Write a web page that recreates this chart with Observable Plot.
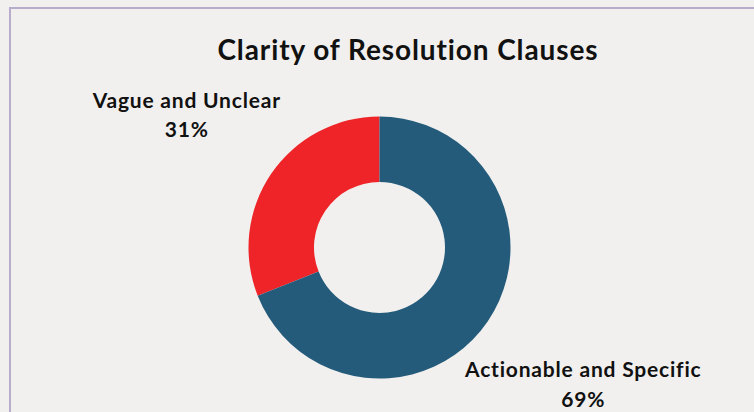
<!DOCTYPE html>
<html>
<head>
<meta charset="utf-8">
<script src="https://cdn.jsdelivr.net/npm/d3@7"></script>
<script src="https://cdn.jsdelivr.net/npm/@observablehq/plot@0.6"></script>
<style>
  html, body { margin: 0; padding: 0; background: #f1f0ee; overflow: hidden; }
  body { width: 754px; height: 412px; position: relative; font-family: Lato, "Open Sans", sans-serif; }
  #frame { position: absolute; left: 9px; top: 7px; width: 800px; height: 500px;
           border-left: 2px solid #b7accb; border-top: 2px solid #b7accb; }
  #title { position: absolute; left: 0; top: 35px; width: 816px; text-align: center;
           font-size: 28px; line-height: 28px; font-weight: 700; color: #111; letter-spacing: 0.9px; }
  #chart { position: absolute; left: 0; top: 0; }
  #chart svg text { letter-spacing: 0.8px; }
</style>
</head>
<body>
<div id="frame"></div>
<div id="title">Clarity of Resolution Clauses</div>
<div id="chart"></div>
<script>
const categories = ["Vague and Unclear", "Actionable and Specific"];
const values = [31, 69];
const valueLabels = ["31%", "69%"];
const colors = ["#ee2428", "#245b7b"];

const data = categories.map((c, i) => ({category: c, value: values[i], label: valueLabels[i]}));

// pie layout: first slice counter-clockwise from top
const total = d3.sum(values);
let acc = 0;
const slices = data.map(d => {
  const a0 = -(acc + d.value) / total * 2 * Math.PI;
  const a1 = -acc / total * 2 * Math.PI;
  acc += d.value;
  return {...d, startAngle: a0, endAngle: a1, mid: (a0 + a1) / 2};
});
// normalize: second slice goes clockwise from top
slices.forEach(s => { if (s.startAngle < -Math.PI) { s.startAngle += 2 * Math.PI; s.endAngle += 2 * Math.PI; s.mid = (s.startAngle + s.endAngle) / 2; } });

const innerR = 0.5;
const labelR = 1.83;
const labels = slices.map(s => ({
  text: s.category + "\n" + s.label,
  x: labelR * Math.sin(s.mid),
  y: labelR * Math.cos(s.mid)
}));

const cx = 379.5, cy = 247.5, R = 131;

const arcMark = (index, scales) => {
  const x0 = scales.x(0), y0 = scales.y(0);
  const r = scales.x(1) - scales.x(0);
  const arc = d3.arc().innerRadius(r * innerR).outerRadius(r);
  const g = d3.create("svg:g").attr("transform", `translate(${x0},${y0})`);
  g.selectAll("path").data(slices).join("path")
    .attr("d", s => arc({startAngle: s.startAngle, endAngle: s.endAngle}))
    .attr("fill", s => scales.color(s.category));
  return g.node();
};

const plot = Plot.plot({
  width: 754,
  height: 412,
  margin: 0,
  style: {background: "transparent", overflow: "visible"},
  x: {domain: [-1, 1], range: [cx - R, cx + R], axis: null},
  y: {domain: [-1, 1], range: [cy + R, cy - R], axis: null},
  color: {domain: categories, range: colors},
  marks: [
    arcMark,
    Plot.text(labels, {
      x: "x", y: "y", text: "text", dx: 5,
      fontSize: 21, fontWeight: 700, fontFamily: "Lato",
      lineHeight: 1.4, fill: "#111"
    })
  ]
});
document.getElementById("chart").appendChild(plot);
</script>
</body>
</html>
